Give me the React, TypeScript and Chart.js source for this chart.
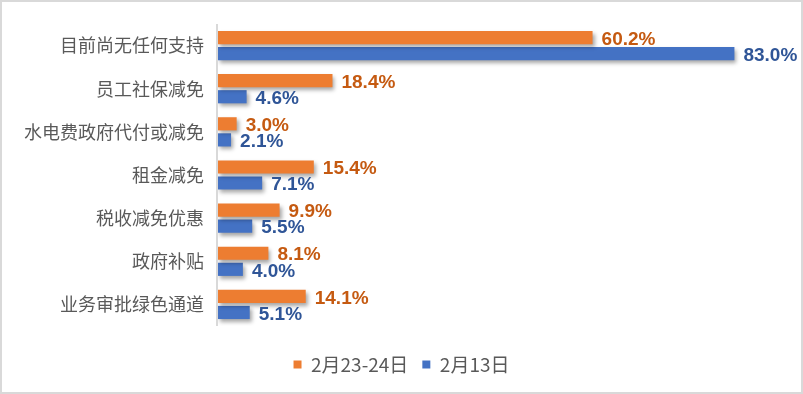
import React, { useEffect, useRef } from "react";
import { Chart, registerables } from "chart.js";

Chart.register(...registerables);

const categories = ["目前尚无任何支持", "员工社保减免", "水电费政府代付或减免", "租金减免", "税收减免优惠", "政府补贴", "业务审批绿色通道"];
const seriesFeb2324 = [60.2, 18.4, 3.0, 15.4, 9.9, 8.1, 14.1];
const seriesFeb13 = [83.0, 4.6, 2.1, 7.1, 5.5, 4.0, 5.1];
const seriesNames = ["2月23-24日", "2月13日"];

const labelColors = ["#C55A11", "#2F5597"];

const barDecor = {
  id: "barDecor",
  beforeDatasetsDraw(chart: any) {
    const ctx = chart.ctx;
    const a = chart.chartArea;
    ctx.save();
    ctx.strokeStyle = "#D9D9D9";
    ctx.lineWidth = 2;
    ctx.beginPath();
    ctx.moveTo(a.left - 1, a.top);
    ctx.lineTo(a.left - 1, a.bottom);
    ctx.stroke();
    ctx.restore();
    ctx.save();
    ctx.shadowColor = "rgba(0,0,0,0.35)";
    ctx.shadowBlur = 4;
    ctx.shadowOffsetX = 2;
    ctx.shadowOffsetY = 3;
  },
  afterDatasetsDraw(chart: any) {
    const ctx = chart.ctx;
    ctx.restore();
    ctx.save();
    ctx.font = "bold 19px 'Liberation Sans', Arial, sans-serif";
    ctx.textBaseline = "middle";
    ctx.textAlign = "left";
    chart.data.datasets.forEach((ds: any, di: number) => {
      const meta = chart.getDatasetMeta(di);
      ctx.fillStyle = labelColors[di];
      meta.data.forEach((bar: any, i: number) => {
        const v = ds.data[i];
        ctx.fillText(v.toFixed(1) + "%", bar.x + 9, bar.y + 2);
      });
    });
    ctx.restore();
  },
};

export default function App() {
  const ref = useRef<HTMLCanvasElement>(null);
  useEffect(() => {
    if (!ref.current) return;
    const chart = new Chart(ref.current, {
      type: "bar",
      data: {
        labels: categories,
        datasets: [
          {
            label: seriesNames[0],
            data: seriesFeb2324,
            backgroundColor: "#ED7D31",
            categoryPercentage: 0.745,
            barPercentage: 0.82,
          },
          {
            label: seriesNames[1],
            data: seriesFeb13,
            backgroundColor: "#4472C4",
            categoryPercentage: 0.745,
            barPercentage: 0.82,
          },
        ],
      },
      options: {
        indexAxis: "y",
        animation: false,
        responsive: true,
        maintainAspectRatio: false,
        layout: { padding: { top: 22, right: 0, bottom: 8, left: 0 } },
        scales: {
          x: {
            display: true,
            min: 0,
            max: 93.7,
            grid: { display: false, drawTicks: false },
            border: { display: false },
            ticks: { display: false },
            afterFit(scale: any) {
              scale.height = 15;
            },
          },
          y: {
            grid: { display: false, drawTicks: false },
            border: { display: false },
            ticks: {
              color: "#595959",
              padding: 14,
              font: { family: "'Noto Sans CJK SC', sans-serif", size: 18 },
            },
            afterFit(scale: any) {
              scale.width = 216;
              scale.paddingTop = 0;
              scale.paddingBottom = 0;
            },
          },
        },
        plugins: {
          legend: {
            position: "bottom",
            labels: {
              color: "#595959",
              boxWidth: 8,
              boxHeight: 8,
              padding: 14,
              font: { family: "'Noto Sans CJK SC', sans-serif", size: 19 },
            },
          },
          tooltip: { enabled: false },
        },
      },
      plugins: [barDecor],
    });
    return () => chart.destroy();
  }, []);
  return (
    <div
      style={{
        position: "fixed",
        left: 0,
        top: 0,
        width: 803,
        height: 394,
        boxSizing: "border-box",
        border: "2px solid #D9D9D9",
        background: "#fff",
      }}
    >
      <div style={{ position: "relative", width: 799, height: 390 }}>
        <canvas ref={ref} />
      </div>
    </div>
  );
}
